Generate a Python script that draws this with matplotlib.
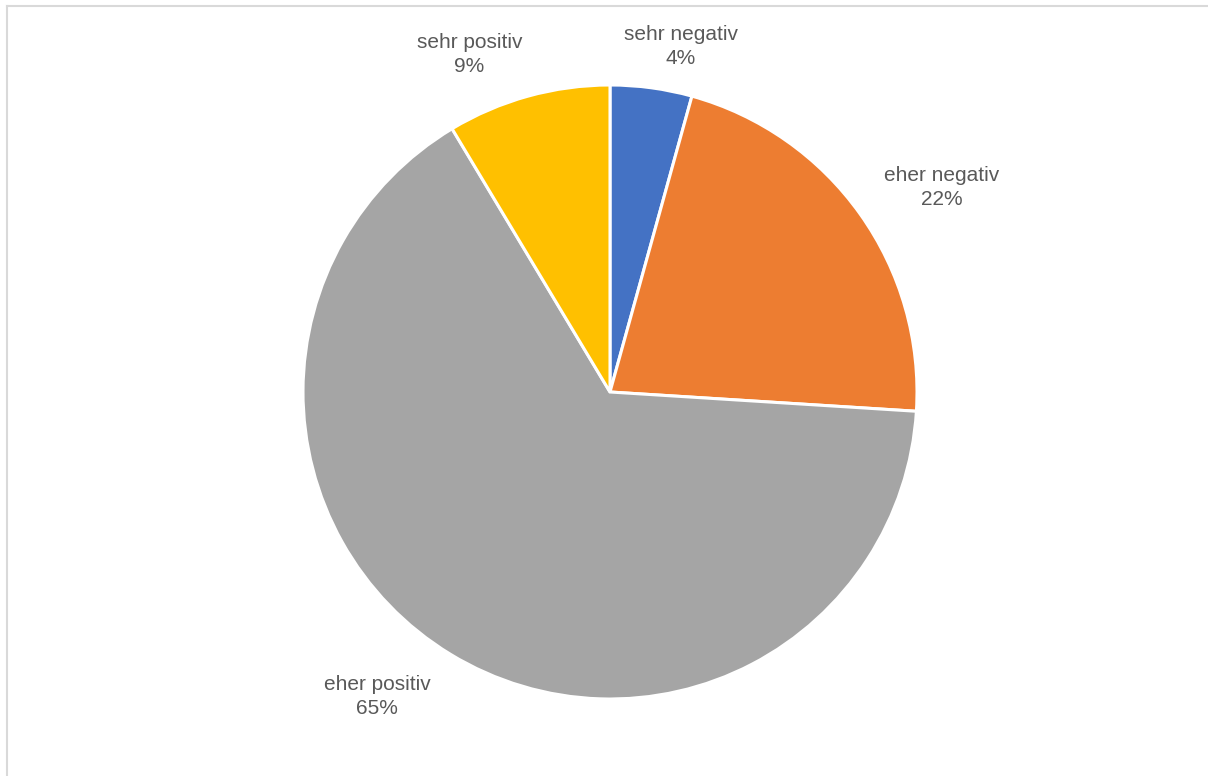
import numpy as np
import matplotlib
matplotlib.use("Agg")
import matplotlib.pyplot as plt
from matplotlib.lines import Line2D

# data
categories = ["sehr negativ", "eher negativ", "eher positiv", "sehr positiv"]
shares = [4.3, 21.7, 65.4, 8.6]
colors = ["#4472C4", "#ED7D31", "#A5A5A5", "#FFC000"]

# label placement: (angle from 12 o'clock clockwise in degrees, radius factor)
label_pos = [(11.6, 1.15), (58.4, 1.27), (217.4, 1.25), (337.4, 1.19)]

plt.rcParams['font.family'] = ['Liberation Sans', 'DejaVu Sans']

W, H = 1208, 776
fig = plt.figure(figsize=(W / 100, H / 100), dpi=100)

cx, cy, r = 610, 392, 307
ax = fig.add_axes([(cx - r) / W, (H - cy - r) / H, 2 * r / W, 2 * r / H])
ax.pie(shares, colors=colors, startangle=90, counterclock=False, radius=1,
       wedgeprops=dict(edgecolor="white", linewidth=2.2))
ax.set_xlim(-1, 1)
ax.set_ylim(-1, 1)
ax.set_aspect("equal")
ax.axis("off")

for cat, val, (ang, rf) in zip(categories, shares, label_pos):
    a = np.deg2rad(ang)
    x = rf * np.sin(a)
    y = rf * np.cos(a)
    ax.text(x, y, "{}\n{:.0f}%".format(cat, val), ha="center", va="center",
            fontsize=15, color="#595959", linespacing=1.35)

# chart frame (only left and top visible)
fig.add_artist(Line2D([6.5 / W, 6.5 / W], [0, 1 - 5.5 / H], transform=fig.transFigure,
                      color="#D9D9D9", linewidth=1.5))
fig.add_artist(Line2D([6.5 / W, 1], [1 - 5.5 / H, 1 - 5.5 / H], transform=fig.transFigure,
                      color="#D9D9D9", linewidth=1.5))

fig.savefig("out.png", dpi=100, facecolor="white")
